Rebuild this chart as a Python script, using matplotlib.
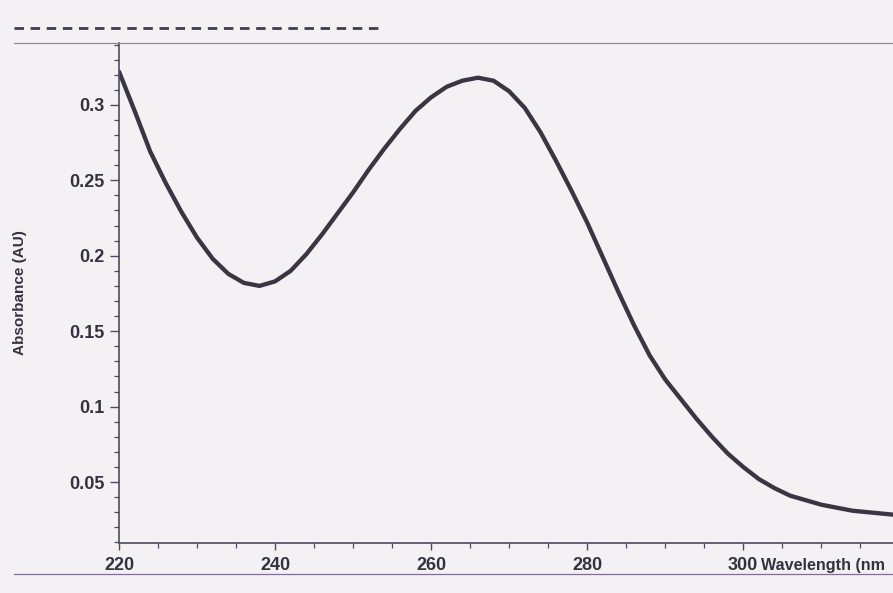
import matplotlib.pyplot as plt
from matplotlib.lines import Line2D
from matplotlib.ticker import MultipleLocator
import matplotlib.transforms as mtransforms

plt.rcParams['font.family'] = ['Liberation Sans', 'DejaVu Sans']

# absorbance spectrum
wavelength = [220, 222, 224, 226, 228, 230, 232, 234, 236, 238, 240, 242, 244, 246,
              248, 250, 252, 254, 256, 258, 260, 262, 264, 266, 268, 270, 272, 274,
              276, 278, 280, 282, 284, 286, 288, 290, 292, 294, 296, 298, 300, 302,
              304, 306, 308, 310, 312, 314, 316, 318, 320]
absorbance = [0.322, 0.296, 0.269, 0.248, 0.229, 0.212, 0.198, 0.188, 0.182, 0.180,
              0.183, 0.190, 0.201, 0.214, 0.228, 0.242, 0.257, 0.271, 0.284, 0.296,
              0.305, 0.312, 0.316, 0.318, 0.316, 0.309, 0.298, 0.282, 0.263, 0.243,
              0.222, 0.199, 0.176, 0.154, 0.134, 0.118, 0.105, 0.092, 0.080, 0.069,
              0.060, 0.052, 0.046, 0.041, 0.038, 0.035, 0.033, 0.031, 0.030, 0.029, 0.028]
x_ticks = [220, 240, 260, 280, 300]
x_tick_labels = ['220', '240', '260', '280', '300']
y_ticks = [0.05, 0.1, 0.15, 0.2, 0.25, 0.3]
y_tick_labels = ['0.05', '0.1', '0.15', '0.2', '0.25', '0.3']

text_col = '#34323f'
axis_col = '#4d4c5e'

fig = plt.figure(figsize=(8.93, 5.93), dpi=100, facecolor='#f3f1f4')
ax = fig.add_axes([0.1333, 0.0843, 0.8667, 0.8432])
ax.set_facecolor('none')

ax.plot(wavelength, absorbance, color='#3b3442', linewidth=3.1,
        solid_capstyle='round', solid_joinstyle='round')

ax.set_xlim(220, 319.2)
ax.set_ylim(0.0096, 0.341)

ax.set_xticks(x_ticks)
ax.set_xticklabels(x_tick_labels)
ax.set_yticks(y_ticks)
ax.set_yticklabels(y_tick_labels)
ax.xaxis.set_minor_locator(MultipleLocator(5))
ax.yaxis.set_minor_locator(MultipleLocator(0.01))

ax.tick_params(axis='both', which='major', direction='out', colors=axis_col,
               labelcolor=text_col, labelsize=13, width=1)
ax.tick_params(axis='y', which='major', length=6.5, pad=4)
ax.tick_params(axis='x', which='major', length=5, pad=5)
ax.tick_params(axis='both', which='minor', direction='out', colors=axis_col,
               length=3.5, width=0.9)
for lbl in ax.get_xticklabels() + ax.get_yticklabels():
    lbl.set_fontweight('bold')

for side in ['top', 'right']:
    ax.spines[side].set_visible(False)
for side in ['left', 'bottom']:
    ax.spines[side].set_color(axis_col)
    ax.spines[side].set_linewidth(1.2)

ax.set_ylabel('Absorbance (AU)', fontsize=11, fontweight='bold', color=text_col, labelpad=30)

# axis title sits on the tick label row, right of 300 (the scan cuts it at "(nm")
trans = mtransforms.blended_transform_factory(ax.transData, ax.transAxes)
ax.text(302.3, -0.044, 'Wavelength (nm', transform=trans, fontsize=11.6, fontweight='bold',
        color=text_col, ha='left', va='center', clip_on=False)

# page rules from the scanned document
fig.add_artist(Line2D([14 / 893, 383 / 893], [1 - 28 / 593, 1 - 28 / 593],
                      color='#3e3c52', linewidth=2, linestyle=(0, (3.4, 2.4))))
fig.add_artist(Line2D([14 / 893, 1], [1 - 43 / 593, 1 - 43 / 593],
                      color='#8c8098', linewidth=0.8))
fig.add_artist(Line2D([14 / 893, 1], [1 - 574 / 593, 1 - 574 / 593],
                      color='#7d7090', linewidth=0.9))

fig.savefig('out.png', dpi=100, facecolor=fig.get_facecolor())
